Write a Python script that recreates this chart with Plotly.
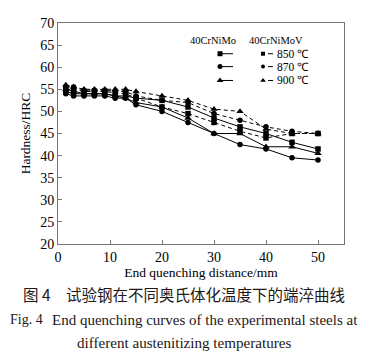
import plotly.graph_objects as go

distance = [1.5, 3, 5, 7, 9, 11, 13, 15, 20, 25, 30, 35, 40, 45, 50]

mo_850 = [54.5, 54.0, 54.0, 54.0, 54.0, 53.5, 53.5, 53.0, 52.5, 51.0, 48.5, 46.5, 45.0, 43.0, 41.5]
mo_870 = [54.0, 53.5, 53.5, 53.5, 53.5, 53.0, 53.0, 51.5, 50.0, 47.5, 45.0, 42.5, 41.5, 39.5, 39.0]
mo_900 = [55.0, 54.5, 54.0, 54.0, 54.0, 53.5, 53.0, 52.0, 51.0, 48.5, 45.0, 45.0, 42.0, 42.0, 40.5]
v_850 = [55.0, 55.0, 54.5, 54.5, 54.5, 54.2, 54.0, 53.0, 51.0, 49.5, 47.5, 45.5, 44.0, 45.0, 45.0]
v_870 = [55.5, 55.5, 54.8, 54.8, 54.8, 54.5, 54.5, 53.5, 52.5, 52.0, 49.5, 48.0, 46.5, 45.5, 45.0]
v_900 = [56.0, 55.5, 55.0, 55.0, 55.0, 55.0, 55.0, 54.5, 53.5, 52.5, 50.5, 50.0, 46.0, 45.0, 45.0]

temps = ["850 ℃", "870 ℃", "900 ℃"]
steels = ["40CrNiMo", "40CrNiMoV"]
symbols = ["square", "circle", "triangle-up"]

x_ticks = [0, 10, 20, 30, 40, 50]
y_ticks = [20, 25, 30, 35, 40, 45, 50, 55, 60, 65, 70]

caption_fig_cn = "图 4"
caption_cn = "试验钢在不同奥氏体化温度下的端淬曲线"
caption_fig_en = "Fig. 4"
caption_en1 = "End quenching curves of the experimental steels at"
caption_en2 = "different austenitizing temperatures"

OFF = 8  # page body margin of the browser
W, H = 370 - OFF, 362 - OFF
L, R, T, B = 58 - OFF, 344 - OFF, 16 - OFF, 244 - OFF

SERIF = "Liberation Serif, Times New Roman, serif"
CJK = "Noto Sans CJK SC"


def px(xp):
    return (xp - OFF - L) / (R - L)


def py(yp):
    return (B - (yp - OFF)) / (B - T)


fig = go.Figure()

series = [(mo_850, 0, "solid"), (mo_870, 1, "solid"), (mo_900, 2, "solid"),
          (v_850, 0, "4px,3px"), (v_870, 1, "4px,3px"), (v_900, 2, "4px,3px")]
for vals, k, dash in series:
    fig.add_trace(go.Scatter(
        x=distance, y=vals, mode="lines+markers",
        line=dict(color="black", width=1, dash=dash),
        marker=dict(symbol=symbols[k], size=5.5 if k != 2 else 6.5, color="black"),
        showlegend=False, cliponaxis=False))

# legend drawn in reference-pixel coordinates on an overlay axis
row_y = [47.7, 61.0, 75.3]
for k in range(3):
    fig.add_trace(go.Scatter(x=[220, 233], y=[row_y[k], row_y[k]], mode="lines",
                             line=dict(color="black", width=1), xaxis="x2", yaxis="y2",
                             showlegend=False, hoverinfo="skip"))
    fig.add_trace(go.Scatter(x=[220], y=[row_y[k]], mode="markers",
                             marker=dict(symbol=symbols[k], size=5 if k != 2 else 6, color="black"),
                             xaxis="x2", yaxis="y2", showlegend=False, hoverinfo="skip"))
    fig.add_trace(go.Scatter(x=[268, 273], y=[row_y[k], row_y[k]], mode="lines",
                             line=dict(color="black", width=1), xaxis="x2", yaxis="y2",
                             showlegend=False, hoverinfo="skip"))
    fig.add_trace(go.Scatter(x=[263], y=[row_y[k]], mode="markers",
                             marker=dict(symbol=symbols[k], size=4 if k != 2 else 5, color="black"),
                             xaxis="x2", yaxis="y2", showlegend=False, hoverinfo="skip"))

annotations = [
    dict(x=px(213), y=py(34), text=steels[0], xref="paper", yref="paper", showarrow=False,
         font=dict(family=SERIF, size=10.5, color="black"), xanchor="center", yanchor="middle"),
    dict(x=px(276), y=py(34), text=steels[1], xref="paper", yref="paper", showarrow=False,
         font=dict(family=SERIF, size=10.5, color="black"), xanchor="center", yanchor="middle"),
]
for k in range(3):
    annotations.append(dict(x=px(275), y=py(row_y[k]), text=temps[k], xref="paper", yref="paper",
                            showarrow=False, font=dict(family=SERIF, size=11.5, color="black"),
                            xanchor="left", yanchor="middle"))

CAP = "#231815"
annotations += [
    dict(x=px(21), y=py(296), text=caption_fig_cn, xref="paper", yref="paper", showarrow=False,
         font=dict(family=CJK, size=15.5, color=CAP), xanchor="left", yanchor="middle"),
    dict(x=px(64), y=py(296), text=caption_cn, xref="paper", yref="paper", showarrow=False,
         font=dict(family=CJK, size=15.5, color=CAP), xanchor="left", yanchor="middle"),
    dict(x=px(8), y=py(322), text=caption_fig_en, xref="paper", yref="paper", showarrow=False,
         font=dict(family=SERIF, size=14, color=CAP), xanchor="left", yanchor="middle"),
    dict(x=px(50), y=py(322), text=caption_en1, xref="paper", yref="paper", showarrow=False,
         font=dict(family=SERIF, size=15, color=CAP), xanchor="left", yanchor="middle"),
    dict(x=px(183.5), y=py(346), text=caption_en2, xref="paper", yref="paper", showarrow=False,
         font=dict(family=SERIF, size=15.1, color=CAP), xanchor="center", yanchor="middle"),
]

fig.update_layout(
    width=W, height=H,
    margin=dict(l=L, r=W - R, t=T, b=H - B, pad=0),
    paper_bgcolor="white", plot_bgcolor="white",
    xaxis=dict(range=[0, 55], tickvals=x_ticks, ticks="inside", ticklen=4, tickcolor="#777",
               showgrid=False, zeroline=False, showline=True, linecolor="#777", linewidth=1, mirror=True,
               tickfont=dict(family=SERIF, size=14, color="black"),
               title=dict(text="End quenching distance/mm", font=dict(family=SERIF, size=13.5, color="black"),
                          standoff=2)),
    yaxis=dict(range=[20, 70], tickvals=y_ticks, ticks="inside", ticklen=4, tickcolor="#777",
               showgrid=False, zeroline=False, showline=True, linecolor="#777", linewidth=1, mirror=True,
               tickfont=dict(family=SERIF, size=14, color="black"),
               title=dict(text="Hardness/HRC", font=dict(family=SERIF, size=13.5, color="black"),
                          standoff=6)),
    xaxis2=dict(range=[L + OFF, R + OFF], overlaying="x", visible=False, fixedrange=True),
    yaxis2=dict(range=[B + OFF, T + OFF], overlaying="y", visible=False, fixedrange=True),
    annotations=annotations,
)

fig.write_html("out.html")
